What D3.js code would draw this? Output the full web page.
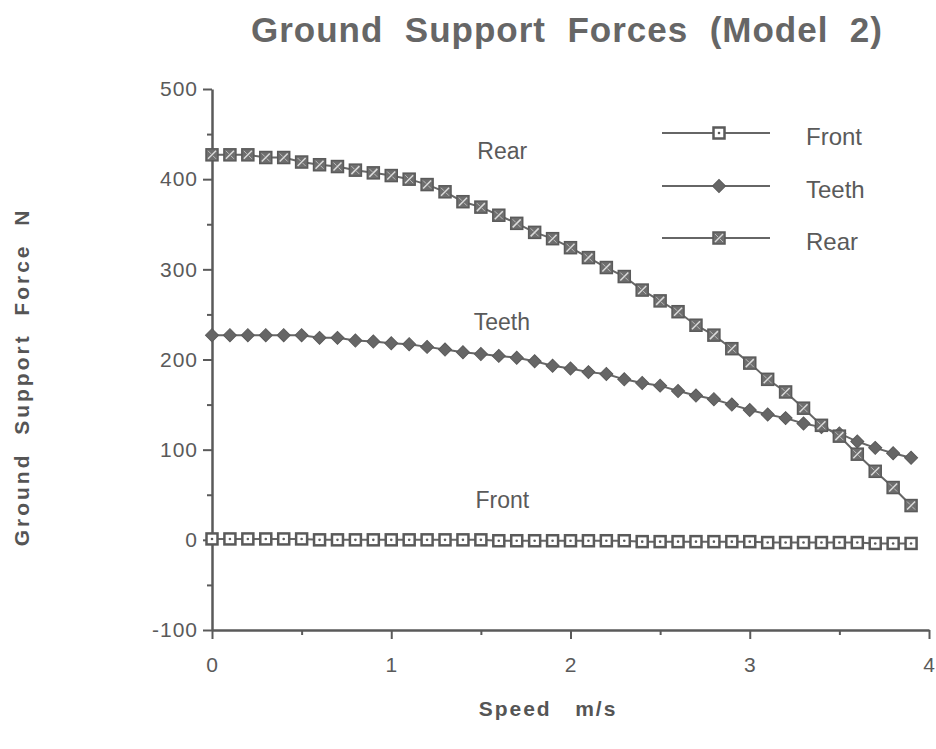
<!DOCTYPE html>
<html>
<head>
<meta charset="utf-8">
<script src="https://cdn.jsdelivr.net/npm/d3@7/dist/d3.min.js"></script>
<style>
  html, body { margin: 0; padding: 0; background: #fff; }
  svg { display: block; }
  text { font-family: "Liberation Sans", Arial, Helvetica, sans-serif; fill: #555; white-space: pre; }
</style>
</head>
<body>
<svg id="chart" width="936" height="749"></svg>
<script>
// ---- data ----
const speeds = [0.0,0.1,0.2,0.3,0.4,0.5,0.6,0.7,0.8,0.9,
                1.0,1.1,1.2,1.3,1.4,1.5,1.6,1.7,1.8,1.9,
                2.0,2.1,2.2,2.3,2.4,2.5,2.6,2.7,2.8,2.9,
                3.0,3.1,3.2,3.3,3.4,3.5,3.6,3.7,3.8,3.9];
const front = [1,1,1,1,1,1,0,0,0,0,
               0,0,0,0,0,0,-1,-1,-1,-1,
               -1,-1,-1,-1,-2,-2,-2,-2,-2,-2,
               -2,-3,-3,-3,-3,-3,-3,-4,-4,-4];
const teeth = [227,227,227,227,227,227,224,224,221,220,
               218,217,214,211,208,206,204,202,198,193,
               190,186,184,178,174,171,165,160,156,150,
               144,139,135,129,125,118,109,102,96,91];
const rear  = [427,427,427,424,424,419,416,414,410,407,
               404,400,394,386,375,369,360,351,341,334,
               324,313,302,292,277,265,253,238,227,212,
               196,178,164,146,127,115,95,76,58,38];
const seriesNames = ["Front", "Teeth", "Rear"];
const xTicks = [0, 1, 2, 3, 4];
const xMinorTicks = [0.5, 1.5, 2.5, 3.5];
const yTicks = [-100, 0, 100, 200, 300, 400, 500];
const yMinorTicks = [-50, 50, 150, 250, 350, 450];
const titleText = "Ground  Support  Forces  (Model  2)";
const xLabel = "Speed   m/s";
const yLabel = "Ground  Support  Force  N";

// ---- layout ----
const svg = d3.select("#chart");
const ink = "#5a5a5a";
const x = d3.scaleLinear().domain([0, 4]).range([212, 929]);
const y = d3.scaleLinear().domain([-100, 500]).range([630, 89]);

// title
svg.append("text").attr("x", 567).attr("y", 42).attr("text-anchor", "middle")
  .style("font-size", "35px").style("font-weight", "bold").style("fill", "#666")
  .style("letter-spacing", "1px")
  .text(titleText);

// axis labels
svg.append("text").attr("x", 548).attr("y", 716).attr("text-anchor", "middle")
  .style("font-size", "21px").style("font-weight", "bold").style("letter-spacing", "2px")
  .text(xLabel);
svg.append("text").attr("transform", "translate(29,377) rotate(-90)").attr("text-anchor", "middle")
  .style("font-size", "21px").style("font-weight", "bold").style("letter-spacing", "3px")
  .text(yLabel);

// x axis
const gx = svg.append("g").attr("transform", `translate(0,${y(-100)})`)
  .call(d3.axisBottom(x).tickValues(xTicks).tickFormat(d => String(d))
        .tickSize(9).tickSizeOuter(0).tickPadding(18));
gx.append("g").call(d3.axisBottom(x).tickValues(xMinorTicks).tickFormat("").tickSize(5).tickSizeOuter(0))
  .select(".domain").remove();
// y axis
const gy = svg.append("g").attr("transform", `translate(${x(0)},0)`)
  .call(d3.axisLeft(y).tickValues(yTicks).tickFormat(d => String(d))
        .tickSize(9).tickSizeOuter(0).tickPadding(5));
gy.append("g").call(d3.axisLeft(y).tickValues(yMinorTicks).tickFormat("").tickSize(5).tickSizeOuter(0))
  .select(".domain").remove();

svg.selectAll(".domain").attr("stroke", ink).attr("stroke-width", 2.5);
svg.selectAll(".tick line").attr("stroke", ink).attr("stroke-width", 2);
svg.selectAll(".tick text").style("font-size", "21px").style("fill", ink)
  .style("font-family", "'Liberation Sans', Arial, sans-serif").style("letter-spacing", "1px");

// markers
function drawMarker(g, name) {
  if (name === "Front") {
    g.append("rect").attr("x", -5.5).attr("y", -5.5).attr("width", 11).attr("height", 11)
      .attr("fill", "#fff").attr("stroke", ink).attr("stroke-width", 2.5);
    g.append("circle").attr("r", 1.3).attr("fill", ink);
  } else if (name === "Teeth") {
    g.append("path").attr("d", d3.symbol().type(d3.symbolSquare).size(85)())
      .attr("transform", "rotate(45)").attr("fill", "#666").attr("stroke", ink).attr("stroke-width", 1);
  } else {
    g.append("rect").attr("x", -6).attr("y", -6).attr("width", 12).attr("height", 12)
      .attr("fill", "#6e6e6e").attr("stroke", ink).attr("stroke-width", 1.5);
    g.append("path").attr("d", "M-4,4L4,-4").attr("stroke", "#ddd").attr("stroke-width", 1.5);
    g.append("path").attr("d", "M-4,-4L-1,-1M1,1L4,4").attr("stroke", "#bbb").attr("stroke-width", 1);
  }
}

const series = [
  { name: "Front", values: front },
  { name: "Teeth", values: teeth },
  { name: "Rear",  values: rear }
];
const line = d3.line().x(d => x(d[0])).y(d => y(d[1]));

series.forEach(s => {
  const pts = speeds.map((sp, i) => [sp, s.values[i]]);
  svg.append("path").datum(pts).attr("d", line)
    .attr("fill", "none").attr("stroke", "#666").attr("stroke-width", 2);
  svg.append("g").selectAll("g").data(pts).join("g")
    .attr("transform", d => `translate(${x(d[0])},${y(d[1])})`)
    .each(function() { drawMarker(d3.select(this), s.name); });
});

// in-plot labels
const inLabels = [
  { name: "Rear",  sx: 1.48, v: 422 },
  { name: "Teeth", sx: 1.46, v: 233 },
  { name: "Front", sx: 1.47, v: 35 }
];
inLabels.forEach(l => {
  svg.append("text").attr("x", x(l.sx)).attr("y", y(l.v))
    .style("font-size", "23px").style("fill", ink).text(l.name);
});

// legend
const legendY = [133, 186, 238];
seriesNames.forEach((n, i) => {
  const g = svg.append("g").attr("transform", `translate(0,${legendY[i]})`);
  g.append("line").attr("x1", 662).attr("x2", 770).attr("y1", 0).attr("y2", 0)
    .attr("stroke", "#666").attr("stroke-width", 2);
  const m = g.append("g").attr("transform", "translate(719,0)");
  drawMarker(m, n);
  g.append("text").attr("x", 806).attr("y", 12).style("font-size", "24px").style("fill", ink).text(n);
});
</script>
</body>
</html>
